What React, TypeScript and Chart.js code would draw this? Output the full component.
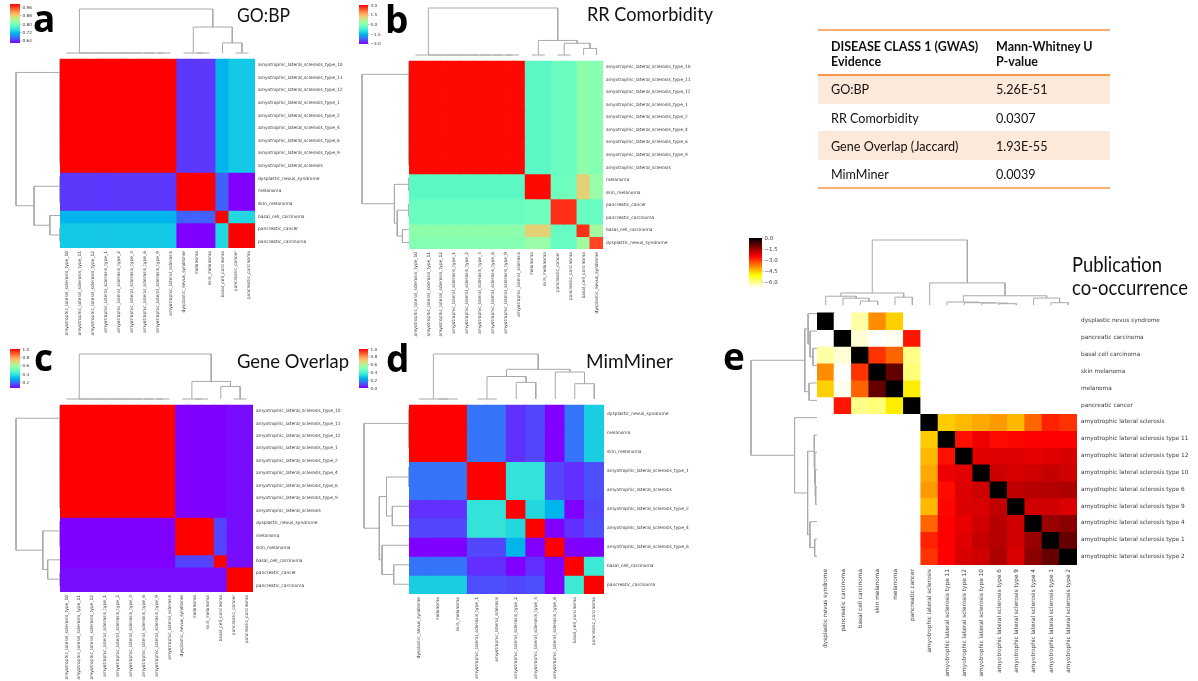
import React, { useEffect, useRef } from 'react';
import { Chart, registerables } from 'chart.js';
Chart.register(...registerables);

type Node = number | [Node, Node, number];

// ---------------- DATA ----------------
const A_LABELS = [
  'amyotrophic_lateral_sclerosis_type_10', 'amyotrophic_lateral_sclerosis_type_11', 'amyotrophic_lateral_sclerosis_type_12',
  'amyotrophic_lateral_sclerosis_type_1', 'amyotrophic_lateral_sclerosis_type_2', 'amyotrophic_lateral_sclerosis_type_4',
  'amyotrophic_lateral_sclerosis_type_6', 'amyotrophic_lateral_sclerosis_type_9', 'amyotrophic_lateral_sclerosis',
  'dysplastic_nevus_syndrome', 'melanoma', 'skin_melanoma', 'basal_cell_carcinoma', 'pancreatic_cancer', 'pancreatic_carcinoma',
];
const A_VALUES = [
  [1, 1, 1, 1, 1, 1, 1, 1, 1, 0.646, 0.646, 0.646, 0.712, 0.727, 0.727],
  [1, 1, 1, 1, 1, 1, 1, 1, 1, 0.646, 0.646, 0.646, 0.712, 0.727, 0.727],
  [1, 1, 1, 1, 1, 1, 1, 1, 1, 0.646, 0.646, 0.646, 0.712, 0.727, 0.727],
  [1, 1, 1, 1, 1, 1, 1, 1, 1, 0.646, 0.646, 0.646, 0.712, 0.727, 0.727],
  [1, 1, 1, 1, 1, 1, 1, 1, 1, 0.646, 0.646, 0.646, 0.712, 0.727, 0.727],
  [1, 1, 1, 1, 1, 1, 1, 1, 1, 0.646, 0.646, 0.646, 0.712, 0.727, 0.727],
  [1, 1, 1, 1, 1, 1, 1, 1, 1, 0.646, 0.646, 0.646, 0.712, 0.727, 0.727],
  [1, 1, 1, 1, 1, 1, 1, 1, 1, 0.646, 0.646, 0.646, 0.712, 0.727, 0.727],
  [1, 1, 1, 1, 1, 1, 1, 1, 1, 0.646, 0.646, 0.646, 0.712, 0.727, 0.727],
  [0.646, 0.646, 0.646, 0.646, 0.646, 0.646, 0.646, 0.646, 0.646, 1, 1, 1, 0.666, 0.62, 0.62],
  [0.646, 0.646, 0.646, 0.646, 0.646, 0.646, 0.646, 0.646, 0.646, 1, 1, 1, 0.666, 0.62, 0.62],
  [0.646, 0.646, 0.646, 0.646, 0.646, 0.646, 0.646, 0.646, 0.646, 1, 1, 1, 0.666, 0.62, 0.62],
  [0.712, 0.712, 0.712, 0.712, 0.712, 0.712, 0.712, 0.712, 0.712, 0.666, 0.666, 0.666, 1, 0.738, 0.738],
  [0.727, 0.727, 0.727, 0.727, 0.727, 0.727, 0.727, 0.727, 0.727, 0.62, 0.62, 0.62, 0.738, 1, 1],
  [0.727, 0.727, 0.727, 0.727, 0.727, 0.727, 0.727, 0.727, 0.727, 0.62, 0.62, 0.62, 0.738, 1, 1],
];
const A_TREE: Node = [[0, [1, [2, [3, [4, [5, [6, [7, 8, 0], 0], 0], 0], 0], 0], 0], 0], [[9, [10, 11, 0], 0], [12, [13, 14, 0], 0.23], 0.59], 1];
const A_RANGE = [0.62, 0.99];
const A_CB_TICKS = [0.96, 0.88, 0.8, 0.72, 0.64];
const A_CB_LABELS = ['0.96', '0.88', '0.80', '0.72', '0.64'];

const B_LABELS = [
  'amyotrophic_lateral_sclerosis_type_10', 'amyotrophic_lateral_sclerosis_type_11', 'amyotrophic_lateral_sclerosis_type_12',
  'amyotrophic_lateral_sclerosis_type_1', 'amyotrophic_lateral_sclerosis_type_2', 'amyotrophic_lateral_sclerosis_type_4',
  'amyotrophic_lateral_sclerosis_type_6', 'amyotrophic_lateral_sclerosis_type_9', 'amyotrophic_lateral_sclerosis',
  'melanoma', 'skin_melanoma', 'pancreatic_cancer', 'pancreatic_carcinoma', 'basal_cell_carcinoma', 'dysplastic_nevus_syndrome',
];
const B_VALUES = [
  [3, 3, 3, 3, 3, 3, 3, 3, 3, -0.42, -0.42, -0.24, -0.24, 0.18, 0.06],
  [3, 3, 3, 3, 3, 3, 3, 3, 3, -0.42, -0.42, -0.24, -0.24, 0.18, 0.06],
  [3, 3, 3, 3, 3, 3, 3, 3, 3, -0.42, -0.42, -0.24, -0.24, 0.18, 0.06],
  [3, 3, 3, 3, 3, 3, 3, 3, 3, -0.42, -0.42, -0.24, -0.24, 0.18, 0.06],
  [3, 3, 3, 3, 3, 3, 3, 3, 3, -0.42, -0.42, -0.24, -0.24, 0.18, 0.06],
  [3, 3, 3, 3, 3, 3, 3, 3, 3, -0.42, -0.42, -0.24, -0.24, 0.18, 0.06],
  [3, 3, 3, 3, 3, 3, 3, 3, 3, -0.42, -0.42, -0.24, -0.24, 0.18, 0.06],
  [3, 3, 3, 3, 3, 3, 3, 3, 3, -0.42, -0.42, -0.24, -0.24, 0.18, 0.06],
  [3, 3, 3, 3, 3, 3, 3, 3, 3, -0.42, -0.42, -0.24, -0.24, 0.18, 0.06],
  [-0.42, -0.42, -0.42, -0.42, -0.42, -0.42, -0.42, -0.42, -0.42, 3, 3, -0.2, -0.2, 1.2, 0.3],
  [-0.42, -0.42, -0.42, -0.42, -0.42, -0.42, -0.42, -0.42, -0.42, 3, 3, -0.2, -0.2, 1.2, 0.3],
  [-0.24, -0.24, -0.24, -0.24, -0.24, -0.24, -0.24, -0.24, -0.24, -0.2, -0.2, 2.7, 2.7, -0.3, -0.3],
  [-0.24, -0.24, -0.24, -0.24, -0.24, -0.24, -0.24, -0.24, -0.24, -0.2, -0.2, 2.7, 2.7, -0.3, -0.3],
  [0.18, 0.18, 0.18, 0.18, 0.18, 0.18, 0.18, 0.18, 0.18, 1.2, 1.2, -0.3, -0.3, 2.7, 0.42],
  [0.06, 0.06, 0.06, 0.06, 0.06, 0.06, 0.06, 0.06, 0.06, 0.3, 0.3, -0.3, -0.3, 0.42, 2.52],
];
const B_TREE: Node = [[0, [1, [2, [3, [4, [5, [6, [7, 8, 0], 0], 0], 0], 0], 0], 0], 0], [[9, 10, 0], [[11, 12, 0], [13, 14, 0.14], 0.25], 0.31], 1];
const B_RANGE = [-3.05, 3.05];
const B_CB_TICKS = [3, 1.5, 0, -1.5, -3];
const B_CB_LABELS = ['3.0', '1.5', '0.0', '\u22121.5', '\u22123.0'];

const C_LABELS = [
  'amyotrophic_lateral_sclerosis_type_10', 'amyotrophic_lateral_sclerosis_type_11', 'amyotrophic_lateral_sclerosis_type_12',
  'amyotrophic_lateral_sclerosis_type_1', 'amyotrophic_lateral_sclerosis_type_2', 'amyotrophic_lateral_sclerosis_type_4',
  'amyotrophic_lateral_sclerosis_type_6', 'amyotrophic_lateral_sclerosis_type_9', 'amyotrophic_lateral_sclerosis',
  'dysplastic_nevus_syndrome', 'melanoma', 'skin_melanoma', 'basal_cell_carcinoma', 'pancreatic_cancer', 'pancreatic_carcinoma',
];
const C_VALUES = [
  [1, 1, 1, 1, 1, 1, 1, 1, 1, 0.07, 0.07, 0.07, 0.07, 0.085, 0.085],
  [1, 1, 1, 1, 1, 1, 1, 1, 1, 0.07, 0.07, 0.07, 0.07, 0.085, 0.085],
  [1, 1, 1, 1, 1, 1, 1, 1, 1, 0.07, 0.07, 0.07, 0.07, 0.085, 0.085],
  [1, 1, 1, 1, 1, 1, 1, 1, 1, 0.07, 0.07, 0.07, 0.07, 0.085, 0.085],
  [1, 1, 1, 1, 1, 1, 1, 1, 1, 0.07, 0.07, 0.07, 0.07, 0.085, 0.085],
  [1, 1, 1, 1, 1, 1, 1, 1, 1, 0.07, 0.07, 0.07, 0.07, 0.085, 0.085],
  [1, 1, 1, 1, 1, 1, 1, 1, 1, 0.07, 0.07, 0.07, 0.07, 0.085, 0.085],
  [1, 1, 1, 1, 1, 1, 1, 1, 1, 0.07, 0.07, 0.07, 0.07, 0.085, 0.085],
  [1, 1, 1, 1, 1, 1, 1, 1, 1, 0.07, 0.07, 0.07, 0.07, 0.085, 0.085],
  [0.07, 0.07, 0.07, 0.07, 0.07, 0.07, 0.07, 0.07, 0.07, 1, 1, 1, 0.15, 0.085, 0.085],
  [0.07, 0.07, 0.07, 0.07, 0.07, 0.07, 0.07, 0.07, 0.07, 1, 1, 1, 0.15, 0.085, 0.085],
  [0.07, 0.07, 0.07, 0.07, 0.07, 0.07, 0.07, 0.07, 0.07, 1, 1, 1, 0.15, 0.085, 0.085],
  [0.07, 0.07, 0.07, 0.07, 0.07, 0.07, 0.07, 0.07, 0.07, 0.15, 0.15, 0.15, 1, 0.085, 0.085],
  [0.085, 0.085, 0.085, 0.085, 0.085, 0.085, 0.085, 0.085, 0.085, 0.085, 0.085, 0.085, 0.085, 1, 1],
  [0.085, 0.085, 0.085, 0.085, 0.085, 0.085, 0.085, 0.085, 0.085, 0.085, 0.085, 0.085, 0.085, 1, 1],
];
const C_TREE: Node = [[0, [1, [2, [3, [4, [5, [6, [7, 8, 0], 0], 0], 0], 0], 0], 0], 0], [[9, [10, 11, 0], 0], [12, [13, 14, 0], 0.28], 0.39], 1];
const C_RANGE = [0.07, 1.0];
const C_CB_TICKS = [1.0, 0.8, 0.6, 0.4, 0.2];
const C_CB_LABELS = ['1.0', '0.8', '0.6', '0.4', '0.2'];

const D_LABELS = [
  'dysplastic_nevus_syndrome', 'melanoma', 'skin_melanoma', 'amyotrophic_lateral_sclerosis_type_1', 'amyotrophic_lateral_sclerosis',
  'amyotrophic_lateral_sclerosis_type_2', 'amyotrophic_lateral_sclerosis_type_4', 'amyotrophic_lateral_sclerosis_type_6',
  'basal_cell_carcinoma', 'pancreatic_carcinoma',
];
const D_VALUES = [
  [1, 1, 1, 0.15, 0.15, 0.06, 0.09, 0, 0.15, 0.3],
  [1, 1, 1, 0.15, 0.15, 0.06, 0.09, 0, 0.15, 0.3],
  [1, 1, 1, 0.15, 0.15, 0.06, 0.09, 0, 0.15, 0.3],
  [0.15, 0.15, 0.15, 1, 1, 0.35, 0.35, 0.09, 0.06, 0.1],
  [0.15, 0.15, 0.15, 1, 1, 0.35, 0.35, 0.09, 0.06, 0.1],
  [0.06, 0.06, 0.06, 0.35, 0.35, 1, 0.32, 0.25, 0, 0.09],
  [0.09, 0.09, 0.09, 0.35, 0.35, 0.32, 1, 0, 0.06, 0.1],
  [0, 0, 0, 0.09, 0.09, 0.25, 0, 1, 0, 0],
  [0.15, 0.15, 0.15, 0.06, 0.06, 0, 0.06, 0, 1, 0.37],
  [0.3, 0.3, 0.3, 0.1, 0.1, 0.09, 0.1, 0, 0.37, 1],
];
const D_TREE: Node = [[0, [1, 2, 0], 0], [[[3, 4, 0], [5, 6, 0.37], 0.5], [7, [8, 9, 0.34], 0.6], 0.66], 1];
const D_RANGE = [0, 1];
const D_CB_TICKS = [1.0, 0.8, 0.6, 0.4, 0.2, 0.0];
const D_CB_LABELS = ['1.0', '0.8', '0.6', '0.4', '0.2', '0.0'];

const E_LABELS = [
  'dysplastic nevus syndrome', 'pancreatic carcinoma', 'basal cell carcinoma', 'skin melanoma', 'melanoma', 'pancreatic cancer',
  'amyotrophic lateral sclerosis', 'amyotrophic lateral sclerosis type 11', 'amyotrophic lateral sclerosis type 12',
  'amyotrophic lateral sclerosis type 10', 'amyotrophic lateral sclerosis type 6', 'amyotrophic lateral sclerosis type 9',
  'amyotrophic lateral sclerosis type 4', 'amyotrophic lateral sclerosis type 1', 'amyotrophic lateral sclerosis type 2',
];
const N = null;
const E_VALUES: (number | null)[][] = [
  [0, N, -6.2, -3.9, -4.6, N, N, N, N, N, N, N, N, N, N],
  [N, 0, -6.5, N, -6.7, -2.7, N, N, N, N, N, N, N, N, N],
  [-6.2, -6.5, 0, -3.0, -3.5, -6.0, N, N, N, N, N, N, N, N, N],
  [-3.9, N, -3.0, 0, -0.95, -5.9, N, N, N, N, N, N, N, N, N],
  [-4.6, -6.7, -3.5, -0.95, 0, -4.9, N, N, N, N, N, N, N, N, N],
  [N, -2.7, -6.0, -5.9, -4.9, 0, N, N, N, N, N, N, N, N, N],
  [N, N, N, N, N, N, 0, -4.56, -4.37, -4.21, -4.04, -4.37, -3.51, -2.83, -3.0],
  [N, N, N, N, N, N, -4.56, 0, -2.65, -2.32, -2.58, -2.53, -2.48, -2.48, -2.48],
  [N, N, N, N, N, N, -4.37, -2.65, 0, -2.18, -2.15, -2.15, -2.26, -2.18, -2.1],
  [N, N, N, N, N, N, -4.21, -2.32, -2.18, 0, -1.99, -2.1, -2.03, -1.91, -2.03],
  [N, N, N, N, N, N, -4.04, -2.58, -2.15, -1.99, 0, -1.87, -1.79, -1.75, -1.68],
  [N, N, N, N, N, N, -4.37, -2.53, -2.15, -2.1, -1.87, 0, -2.03, -2.03, -2.15],
  [N, N, N, N, N, N, -3.51, -2.48, -2.26, -2.03, -1.79, -2.03, 0, -1.49, -1.34],
  [N, N, N, N, N, N, -2.83, -2.48, -2.18, -1.91, -1.75, -2.03, -1.49, 0, -0.99],
  [N, N, N, N, N, N, -3.0, -2.48, -2.1, -2.03, -1.68, -2.15, -1.34, -0.99, 0],
];
const E_TREE: Node = [
  [[0, [1, [2, 3, 0.06], 0.105], 0.135], [4, 5, 0.12], 0.185],
  [6, [[7, [8, [9, [10, 11, 0.02], 0.03], 0.035], 0.045], [12, [13, 14, 0.035], 0.107], 0.142], 0.34],
  1,
];
const E_RANGE = [-6.8, 0];
const E_CB_TICKS = [0, -1.5, -3, -4.5, -6];
const E_CB_LABELS = ['0.0', '\u22121.5', '\u22123.0', '\u22124.5', '\u22126.0'];

const TABLE_HEAD_1 = ['DISEASE CLASS 1 (GWAS)', 'Evidence'];
const TABLE_HEAD_2 = ['Mann-Whitney U', 'P-value'];
const TABLE_EVIDENCE = ['GO:BP', 'RR Comorbidity', 'Gene Overlap (Jaccard)', 'MimMiner'];
const TABLE_PVALUES = ['5.26E-51', '0.0307', '1.93E-55', '0.0039'];

// ---------------- COLORMAPS ----------------
const clamp = (v: number) => Math.max(0, Math.min(1, v));
const rgb = (r: number, g: number, b: number) =>
  `rgb(${Math.round(clamp(r) * 255)},${Math.round(clamp(g) * 255)},${Math.round(clamp(b) * 255)})`;
function rainbow(t: number) {
  t = clamp(t);
  return rgb(Math.abs(2 * t - 0.5), Math.sin(Math.PI * t), Math.cos((Math.PI * t) / 2));
}
function hot(s: number) {
  s = clamp(s);
  return rgb(s / 0.365079, (s - 0.365079) / 0.380953, (s - 0.746032) / 0.253968);
}
const rainbowColors = (m: number[][], range: number[]) =>
  m.map((row) => row.map((v) => rainbow((v - range[0]) / (range[1] - range[0]))));
const hotRColors = (m: (number | null)[][], range: number[]) =>
  m.map((row) => row.map((v) => (v === null ? '#ffffff' : hot((range[1] - v) / (range[1] - range[0])))));

// ---------------- CHART HELPERS ----------------
const LINE_COLOR = '#a9a9a9';

function treeSegments(tree: Node) {
  const segs: number[][] = [];
  const walk = (nd: Node): [number, number] => {
    if (typeof nd === 'number') return [nd + 0.5, 0];
    const [a, b, h] = nd;
    const [p1, h1] = walk(a);
    const [p2, h2] = walk(b);
    segs.push([p1, h1, p2, h2, h]);
    return [(p1 + p2) / 2, h];
  };
  walk(tree);
  return segs;
}

function ChartBox(props: { left: number; top: number; width: number; height: number; make: () => any }) {
  const ref = useRef<HTMLCanvasElement | null>(null);
  useEffect(() => {
    const c = new Chart(ref.current as HTMLCanvasElement, props.make());
    return () => c.destroy();
  }, []);
  return (
    <canvas
      ref={ref}
      width={props.width}
      height={props.height}
      style={{ position: 'absolute', left: props.left, top: props.top, width: props.width, height: props.height }}
    />
  );
}

function heatmapConfig(labels: string[], colors: string[][], fontSize: number, rightW: number, bottomH: number, pad: number) {
  const n = labels.length;
  const font = { family: 'DejaVu Sans', size: fontSize };
  return {
    type: 'bar',
    data: {
      labels,
      datasets: colors.map((row) => ({
        data: row.map(() => 1),
        backgroundColor: row,
        borderWidth: 0,
        inflateAmount: 0.6,
        barPercentage: 1,
        categoryPercentage: 1,
      })),
    },
    options: {
      animation: false,
      responsive: false,
      events: [],
      layout: { padding: 0 },
      plugins: { legend: { display: false }, tooltip: { enabled: false }, title: { display: false } },
      scales: {
        x: {
          type: 'category',
          stacked: true,
          offset: true,
          grid: { display: false, drawTicks: false },
          border: { display: false },
          ticks: { autoSkip: false, minRotation: 90, maxRotation: 90, padding: pad, font, color: '#3a3a3a' },
          afterFit: (s: any) => { s.height = bottomH; },
        },
        y: {
          type: 'linear',
          stacked: true,
          min: 0,
          max: n,
          reverse: true,
          position: 'right',
          grid: { display: false, drawTicks: false },
          border: { display: false },
          afterBuildTicks: (s: any) => { s.ticks = labels.map((_, i) => ({ value: i + 0.5 })); },
          ticks: { autoSkip: false, padding: pad, font, color: '#3a3a3a', callback: (_v: any, i: number) => labels[i] },
          afterFit: (s: any) => { s.width = rightW; },
        },
      },
    },
  };
}

function dendroConfig(tree: Node, n: number, orient: 'top' | 'left', padding: any) {
  const segs = treeSegments(tree);
  const datasets = segs.map(([p1, h1, p2, h2, h]) => {
    const pts = orient === 'top'
      ? [{ x: p1, y: h1 }, { x: p1, y: h }, { x: p2, y: h }, { x: p2, y: h2 }]
      : [{ x: h1, y: p1 }, { x: h, y: p1 }, { x: h, y: p2 }, { x: h2, y: p2 }];
    return { data: pts, showLine: true, borderColor: LINE_COLOR, borderWidth: 1, pointRadius: 0, tension: 0, clip: false };
  });
  const posScale = { type: 'linear', display: false, min: 0, max: n };
  const hScale = { type: 'linear', display: false, min: 0, max: 1 };
  return {
    type: 'scatter',
    data: { datasets },
    options: {
      animation: false,
      responsive: false,
      events: [],
      layout: { padding },
      plugins: { legend: { display: false }, tooltip: { enabled: false } },
      scales: orient === 'top'
        ? { x: posScale, y: hScale }
        : { x: { ...hScale, reverse: true }, y: { ...posScale, reverse: true } },
    },
  };
}

type PanelProps = {
  labels: string[]; colors: string[][]; tree: Node;
  hx: number; hy: number; size: number; topRoot: number; leftRoot: number;
  fontSize: number; rightW: number; bottomH: number; pad: number;
};

function Panel(p: PanelProps) {
  const n = p.labels.length;
  return (
    <>
      <ChartBox left={p.hx} top={p.topRoot - 3} width={p.size} height={p.hy - p.topRoot + 5}
        make={() => dendroConfig(p.tree, n, 'top', { top: 3, bottom: 2, left: 0, right: 0 })} />
      <ChartBox left={p.leftRoot - 3} top={p.hy} width={p.hx - p.leftRoot + 5} height={p.size}
        make={() => dendroConfig(p.tree, n, 'left', { left: 3, right: 2, top: 0, bottom: 0 })} />
      <ChartBox left={p.hx} top={p.hy} width={p.size + p.rightW} height={p.size + p.bottomH}
        make={() => heatmapConfig(p.labels, p.colors, p.fontSize, p.rightW, p.bottomH, p.pad)} />
    </>
  );
}

function ColorBar(props: { id: string; x: number; y: number; w: number; h: number; range: number[]; ticks: number[]; labels: string[]; kind: 'rainbow' | 'hot'; fs: number }) {
  const stops = [];
  for (let k = 0; k <= 32; k++) {
    const f = k / 32;
    const col = props.kind === 'rainbow' ? rainbow(1 - f) : hot(f);
    stops.push(<stop key={k} offset={f} stopColor={col} />);
  }
  const [lo, hi] = props.range;
  return (
    <g>
      <defs>
        <linearGradient id={props.id} x1="0" y1="0" x2="0" y2="1">{stops}</linearGradient>
      </defs>
      <rect x={props.x} y={props.y} width={props.w} height={props.h} fill={`url(#${props.id})`} />
      {props.ticks.map((t, i) => {
        const yy = props.y + ((hi - t) / (hi - lo)) * props.h;
        return (
          <g key={i}>
            <line x1={props.x + props.w} x2={props.x + props.w + 1.5} y1={yy} y2={yy} stroke="#555" strokeWidth={0.4} />
            <text x={props.x + props.w + 2.5} y={yy} dominantBaseline="central" fontFamily="DejaVu Sans" fontSize={props.fs} fill="#333">{props.labels[i]}</text>
          </g>
        );
      })}
    </g>
  );
}

export default function App() {
  const A_COLORS = rainbowColors(A_VALUES, A_RANGE);
  const B_COLORS = rainbowColors(B_VALUES, B_RANGE);
  const C_COLORS = rainbowColors(C_VALUES, C_RANGE);
  const D_COLORS = rainbowColors(D_VALUES, D_RANGE);
  const E_COLORS = hotRColors(E_VALUES, E_RANGE);
  const letter = { fontFamily: 'Open Sans', fontWeight: 700, fontSize: 37, fill: '#000' } as any;
  const title = { fontFamily: 'Lato', fontSize: 19.5, fill: '#111', lengthAdjust: 'spacingAndGlyphs' } as any;
  const tHead = { fontFamily: 'Lato', fontWeight: 700, fontSize: 12.5, fill: '#111' } as any;
  const tBody = { fontFamily: 'Lato', fontSize: 13, fill: '#111' } as any;
  const ORANGE = '#f79646';
  const PEACH = '#fde9d9';
  const rowTop = [76, 104, 131, 160];
  const rowBase = [94, 122.5, 151, 179];
  return (
    <div style={{ position: 'fixed', left: 0, top: 0, width: 1198, height: 681, background: '#fff', overflow: 'hidden' }}>
      <Panel labels={A_LABELS} colors={A_COLORS} tree={A_TREE} hx={60} hy={53} size={195} topRoot={9} leftRoot={16} fontSize={4.4} rightW={100} bottomH={95} pad={3} />
      <Panel labels={B_LABELS} colors={B_COLORS} tree={B_TREE} hx={409} hy={55} size={194} topRoot={8} leftRoot={362} fontSize={4.4} rightW={100} bottomH={95} pad={3} />
      <Panel labels={C_LABELS} colors={C_COLORS} tree={C_TREE} hx={60} hy={399} size={193} topRoot={354} leftRoot={16} fontSize={4.4} rightW={100} bottomH={95} pad={3} />
      <Panel labels={D_LABELS} colors={D_COLORS} tree={D_TREE} hx={409} hy={399} size={195} topRoot={354} leftRoot={364} fontSize={4.4} rightW={100} bottomH={95} pad={3} />
      <Panel labels={E_LABELS} colors={E_COLORS} tree={E_TREE} hx={817} hy={305} size={260} topRoot={240} leftRoot={751} fontSize={5.8} rightW={120} bottomH={112} pad={4} />
      <svg width={1198} height={681} style={{ position: 'absolute', left: 0, top: 0, pointerEvents: 'none' }}>
        <ColorBar id="cba" x={10} y={4} w={10} h={39} range={A_RANGE} ticks={A_CB_TICKS} labels={A_CB_LABELS} kind="rainbow" fs={4.2} />
        <ColorBar id="cbb" x={359} y={5} w={9} h={39} range={B_RANGE} ticks={B_CB_TICKS} labels={B_CB_LABELS} kind="rainbow" fs={4.2} />
        <ColorBar id="cbc" x={10} y={349} w={10} h={39} range={C_RANGE} ticks={C_CB_TICKS} labels={C_CB_LABELS} kind="rainbow" fs={4.2} />
        <ColorBar id="cbd" x={359} y={349} w={9} h={39} range={D_RANGE} ticks={D_CB_TICKS} labels={D_CB_LABELS} kind="rainbow" fs={4.2} />
        <ColorBar id="cbe" x={749} y={238} w={13} h={50} range={E_RANGE} ticks={E_CB_TICKS} labels={E_CB_LABELS} kind="hot" fs={5.4} />

        <text x={33} y={32} {...letter}>a</text>
        <text x={385} y={33} {...letter}>b</text>
        <text x={34} y={371} {...letter}>c</text>
        <text x={386} y={372} {...letter}>d</text>
        <text x={723} y={370} {...letter}>e</text>

        <text x={237} y={22} textLength={53} {...title}>GO:BP</text>
        <text x={587} y={21} textLength={126} {...title}>RR Comorbidity</text>
        <text x={237} y={368} textLength={112} {...title}>Gene Overlap</text>
        <text x={586} y={368} textLength={87} {...title}>MimMiner</text>
        <text x={1072} y={271.5} textLength={90} {...title} fontSize={20.5}>Publication</text>
        <text x={1072} y={295} textLength={116} {...title} fontSize={20.5}>co-occurrence</text>

        <rect x={818} y={rowTop[0]} width={292} height={rowTop[1] - rowTop[0]} fill={PEACH} />
        <rect x={818} y={rowTop[2]} width={292} height={rowTop[3] - rowTop[2]} fill={PEACH} />
        <line x1={818} x2={1110} y1={30} y2={30} stroke={ORANGE} strokeWidth={1.5} />
        <line x1={818} x2={1110} y1={75} y2={75} stroke={ORANGE} strokeWidth={2} />
        <line x1={818} x2={1110} y1={188} y2={188} stroke={ORANGE} strokeWidth={1.5} />
        <text x={831} y={50.5} {...tHead}>{TABLE_HEAD_1[0]}</text>
        <text x={831} y={65.5} {...tHead}>{TABLE_HEAD_1[1]}</text>
        <text x={996} y={50.5} {...tHead}>{TABLE_HEAD_2[0]}</text>
        <text x={996} y={65.5} {...tHead}>{TABLE_HEAD_2[1]}</text>
        {TABLE_EVIDENCE.map((t, i) => (
          <g key={i}>
            <text x={831} y={rowBase[i]} {...tBody} fontSize={12.6}>{t}</text>
            <text x={996} y={rowBase[i]} {...tBody} fontSize={12.6}>{TABLE_PVALUES[i]}</text>
          </g>
        ))}
      </svg>
    </div>
  );
}
